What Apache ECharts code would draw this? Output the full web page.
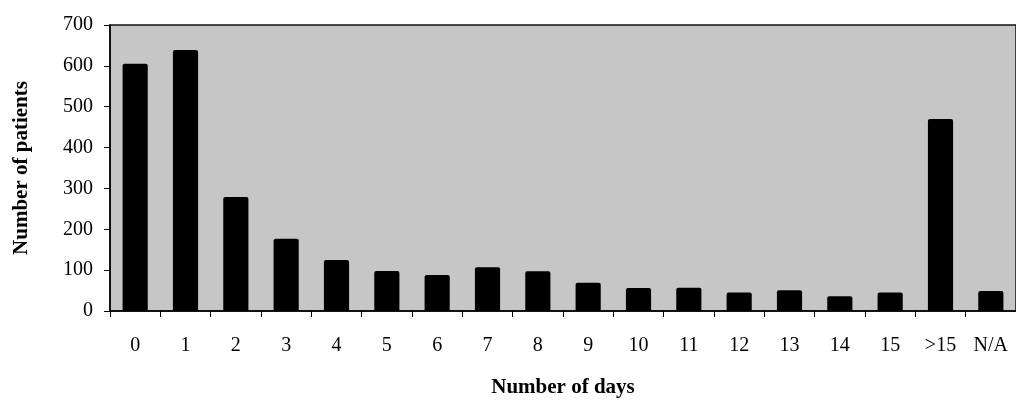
<!DOCTYPE html>
<html>
<head>
<meta charset="utf-8">
<style>html,body{margin:0;padding:0;background:#fff;}#c{width:1016px;height:403px;}</style>
<script src="https://cdn.jsdelivr.net/npm/echarts@6/dist/echarts.min.js"></script>
</head>
<body>
<div id="c"></div>
<script>
var categories = ['0','1','2','3','4','5','6','7','8','9','10','11','12','13','14','15','>15','N/A'];
var patients = [605, 639, 279, 177, 125, 98, 88, 107, 97, 69, 56, 57, 45, 51, 36, 45, 470, 49];
var yTicks = [0, 100, 200, 300, 400, 500, 600, 700];

var chart = echarts.init(document.getElementById('c'));
var font = '"Liberation Serif", "Times New Roman", serif';
chart.setOption({
  animation: false,
  backgroundColor: '#ffffff',
  grid: {
    left: 110, top: 25, right: -5, bottom: 88.5,
    show: true, backgroundColor: '#c6c6c6', borderColor: '#111', borderWidth: 1.5
  },
  xAxis: {
    type: 'category',
    data: categories,
    name: 'Number of days',
    nameLocation: 'middle',
    nameGap: 66,
    nameTextStyle: { fontFamily: font, fontWeight: 'bold', fontSize: 21, color: '#000', verticalAlign: 'top' },
    axisLine: { lineStyle: { color: '#000', width: 1.5 } },
    axisTick: { show: true, length: 6, alignWithLabel: false, lineStyle: { color: '#000' } },
    axisLabel: { fontFamily: font, fontSize: 20, color: '#000', margin: 25, interval: 0 }
  },
  yAxis: {
    type: 'value',
    min: yTicks[0],
    max: yTicks[yTicks.length - 1],
    interval: 100,
    name: 'Number of patients',
    nameLocation: 'middle',
    nameGap: 78,
    nameTextStyle: { fontFamily: font, fontWeight: 'bold', fontSize: 21, color: '#000' },
    splitLine: { show: false },
    axisLine: { show: true, lineStyle: { color: '#000', width: 1.5 } },
    axisTick: { show: true, length: 6, lineStyle: { color: '#000' } },
    axisLabel: { fontFamily: font, fontSize: 20, color: '#000', margin: 17 }
  },
  series: [{
    type: 'bar',
    data: patients,
    barWidth: '50%',
    itemStyle: { color: '#000', borderRadius: [2, 2, 0, 0] }
  }]
});
</script>
</body>
</html>
